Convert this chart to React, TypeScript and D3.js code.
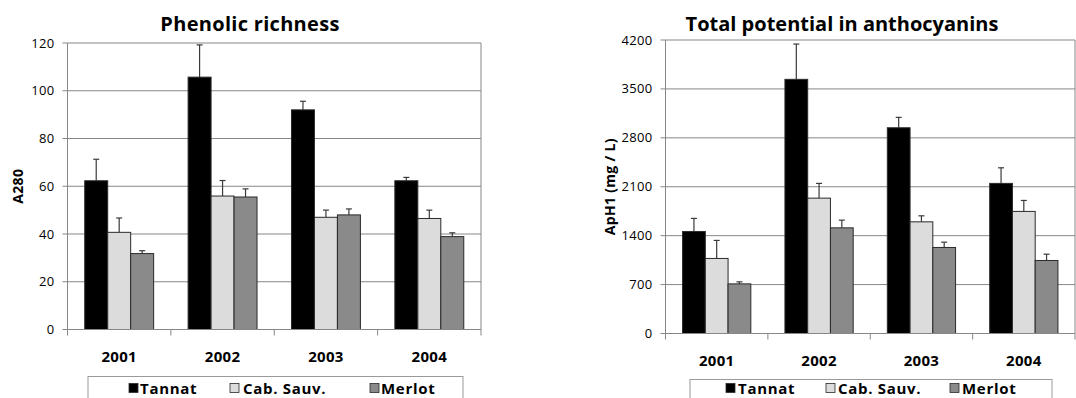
import React from "react";
import * as d3 from "d3";

// Vintages and cultivars
const years = ["2001", "2002", "2003", "2004"];
const cultivars = ["Tannat", "Cab. Sauv.", "Merlot"];
const cultivarColors = ["#000000", "#dcdcdc", "#8a8a8a"];

// Phenolic richness (A280): means and upper error (mean + SD)
const phenolTannat = [62.3, 105.7, 92.0, 62.3];
const phenolTannatErr = [71.3, 119.2, 95.6, 63.7];
const phenolCab = [40.7, 55.9, 47.0, 46.5];
const phenolCabErr = [46.7, 62.4, 50.0, 50.0];
const phenolMerlot = [31.8, 55.5, 48.0, 38.9];
const phenolMerlotErr = [33.0, 58.9, 50.5, 40.5];
const phenolTicks = [0, 20, 40, 60, 80, 100, 120];

// Total potential in anthocyanins, ApH1 (mg / L)
const anthoTannat = [1460, 3637, 2944, 2148];
const anthoTannatErr = [1647, 4142, 3093, 2371];
const anthoCab = [1074, 1937, 1598, 1747];
const anthoCabErr = [1332, 2148, 1684, 1904];
const anthoMerlot = [710, 1512, 1231, 1045];
const anthoMerlotErr = [739, 1622, 1307, 1135];
const anthoTicks = [0, 700, 1400, 2100, 2800, 3500, 4200];

const FONT = "'Open Sans', 'DejaVu Sans', sans-serif";
const GRID = "#878787";

type PanelProps = {
  title: string;
  titleX: number;
  titleSpacing: number;
  yLabel: string;
  yLabelX: number;
  means: number[][];
  errs: number[][];
  ticks: number[];
  x0: number;
  x1: number;
  yTop: number;
  yBottom: number;
  yearBaseline: number;
  legend: { left: number; right: number; top: number; squares: number[]; texts: number[]; baseline: number };
};

function Panel(p: PanelProps) {
  const yMax = p.ticks[p.ticks.length - 1];
  const y = d3.scaleLinear().domain([0, yMax]).range([p.yBottom, p.yTop]);
  const xCat = d3.scaleBand<string>().domain(years).range([p.x0, p.x1]).padding(0);
  const bw = xCat.bandwidth();
  // gap between clusters is 150% of one bar
  const xSer = d3
    .scaleBand<string>()
    .domain(cultivars)
    .range([bw / 6, bw - bw / 6])
    .padding(0);
  const barW = xSer.bandwidth();

  return (
    <g>
      <text
        x={p.titleX}
        y={31}
        textAnchor="middle"
        fontFamily={FONT}
        fontWeight="bold"
        fontSize={20}
        letterSpacing={p.titleSpacing}
        fill="#000"
      >
        {p.title}
      </text>

      {/* horizontal gridlines */}
      {p.ticks.slice(1).map((t) => (
        <line key={t} x1={p.x0} x2={p.x1} y1={y(t)} y2={y(t)} stroke={GRID} strokeWidth={1} />
      ))}
      {/* right border of plot area */}
      <line x1={p.x1} x2={p.x1} y1={p.yTop} y2={p.yBottom} stroke={GRID} strokeWidth={1} />

      {/* y axis */}
      <line x1={p.x0} x2={p.x0} y1={p.yTop} y2={p.yBottom} stroke={GRID} strokeWidth={1} />
      {p.ticks.map((t) => (
        <g key={"yt" + t}>
          <line x1={p.x0 - 5} x2={p.x0} y1={y(t)} y2={y(t)} stroke={GRID} strokeWidth={1} />
          <text
            x={p.x0 - 13}
            y={y(t)}
            dy="0.35em"
            textAnchor="end"
            fontFamily={FONT}
            fontSize={13}
            letterSpacing={0.3}
            fill="#000"
          >
            {t}
          </text>
        </g>
      ))}
      <text
        transform={`translate(${p.yLabelX},${(p.yTop + p.yBottom) / 2}) rotate(-90)`}
        textAnchor="middle"
        fontFamily={FONT}
        fontWeight="bold"
        fontSize={14}
        letterSpacing={0.3}
        fill="#000"
      >
        {p.yLabel}
      </text>

      {/* bars with upper error bars */}
      {years.map((yr, i) => (
        <g key={yr} transform={`translate(${xCat(yr)},0)`}>
          {cultivars.map((c, j) => {
            const v = p.means[j][i];
            const e = p.errs[j][i];
            const bx = xSer(c)!;
            const cx = bx + barW / 2;
            return (
              <g key={c}>
                <line x1={cx} x2={cx} y1={y(v)} y2={y(e)} stroke="#3a3a3a" strokeWidth={1.2} />
                <line x1={cx - 3} x2={cx + 3} y1={y(e)} y2={y(e)} stroke="#3a3a3a" strokeWidth={1.2} />
                <rect
                  x={bx}
                  y={y(v)}
                  width={barW}
                  height={y(0) - y(v)}
                  fill={cultivarColors[j]}
                  stroke="#2a2a2a"
                  strokeWidth={1}
                />
              </g>
            );
          })}
        </g>
      ))}

      {/* x axis */}
      <line x1={p.x0} x2={p.x1} y1={p.yBottom} y2={p.yBottom} stroke={GRID} strokeWidth={1} />
      {years.map((yr) => (
        <line
          key={"xt" + yr}
          x1={xCat(yr)!}
          x2={xCat(yr)!}
          y1={p.yBottom}
          y2={p.yBottom + 6}
          stroke={GRID}
          strokeWidth={1}
        />
      ))}
      <line x1={p.x1} x2={p.x1} y1={p.yBottom} y2={p.yBottom + 6} stroke={GRID} strokeWidth={1} />
      {years.map((yr) => (
        <text
          key={"xl" + yr}
          x={xCat(yr)! + bw / 2}
          y={p.yearBaseline}
          textAnchor="middle"
          fontFamily={FONT}
          fontWeight="bold"
          fontSize={15}
          letterSpacing={0.3}
          fill="#000"
        >
          {yr}
        </text>
      ))}

      {/* legend */}
      <rect
        x={p.legend.left}
        y={p.legend.top}
        width={p.legend.right - p.legend.left}
        height={40}
        fill="#fff"
        stroke="#9a9a9a"
        strokeWidth={1}
      />
      {cultivars.map((c, j) => (
        <g key={"lg" + c}>
          <rect
            x={p.legend.squares[j]}
            y={p.legend.baseline - 10}
            width={9}
            height={9}
            fill={cultivarColors[j]}
            stroke="#2a2a2a"
            strokeWidth={0.8}
          />
          <text
            x={p.legend.texts[j]}
            y={p.legend.baseline}
            fontFamily={FONT}
            fontWeight="bold"
            fontSize={15}
            letterSpacing={0.7}
            fill="#000"
          >
            {c}
          </text>
        </g>
      ))}
    </g>
  );
}

export default function App() {
  return (
    <svg width={1076} height={398} style={{ position: "absolute", left: 0, top: 0, background: "#fff" }}>
      <rect x={0} y={0} width={1076} height={398} fill="#fff" />
      <Panel
        title="Phenolic richness"
        titleX={250}
        titleSpacing={0.3}
        yLabel="A280"
        yLabelX={23}
        means={[phenolTannat, phenolCab, phenolMerlot]}
        errs={[phenolTannatErr, phenolCabErr, phenolMerlotErr]}
        ticks={phenolTicks}
        x0={67.5}
        x1={481}
        yTop={43}
        yBottom={329.5}
        yearBaseline={362}
        legend={{ left: 88, right: 463, top: 376.5, squares: [129, 230, 370], texts: [140, 243, 381], baseline: 393.5 }}
      />
      <Panel
        title="Total potential in anthocyanins"
        titleX={842}
        titleSpacing={0}
        yLabel="ApH1 (mg / L)"
        yLabelX={615}
        means={[anthoTannat, anthoCab, anthoMerlot]}
        errs={[anthoTannatErr, anthoCabErr, anthoMerlotErr]}
        ticks={anthoTicks}
        x0={665.5}
        x1={1075}
        yTop={40}
        yBottom={333.5}
        yearBaseline={366}
        legend={{ left: 690, right: 1052, top: 379.5, squares: [726, 826, 950], texts: [738, 838, 962], baseline: 393.5 }}
      />
    </svg>
  );
}
